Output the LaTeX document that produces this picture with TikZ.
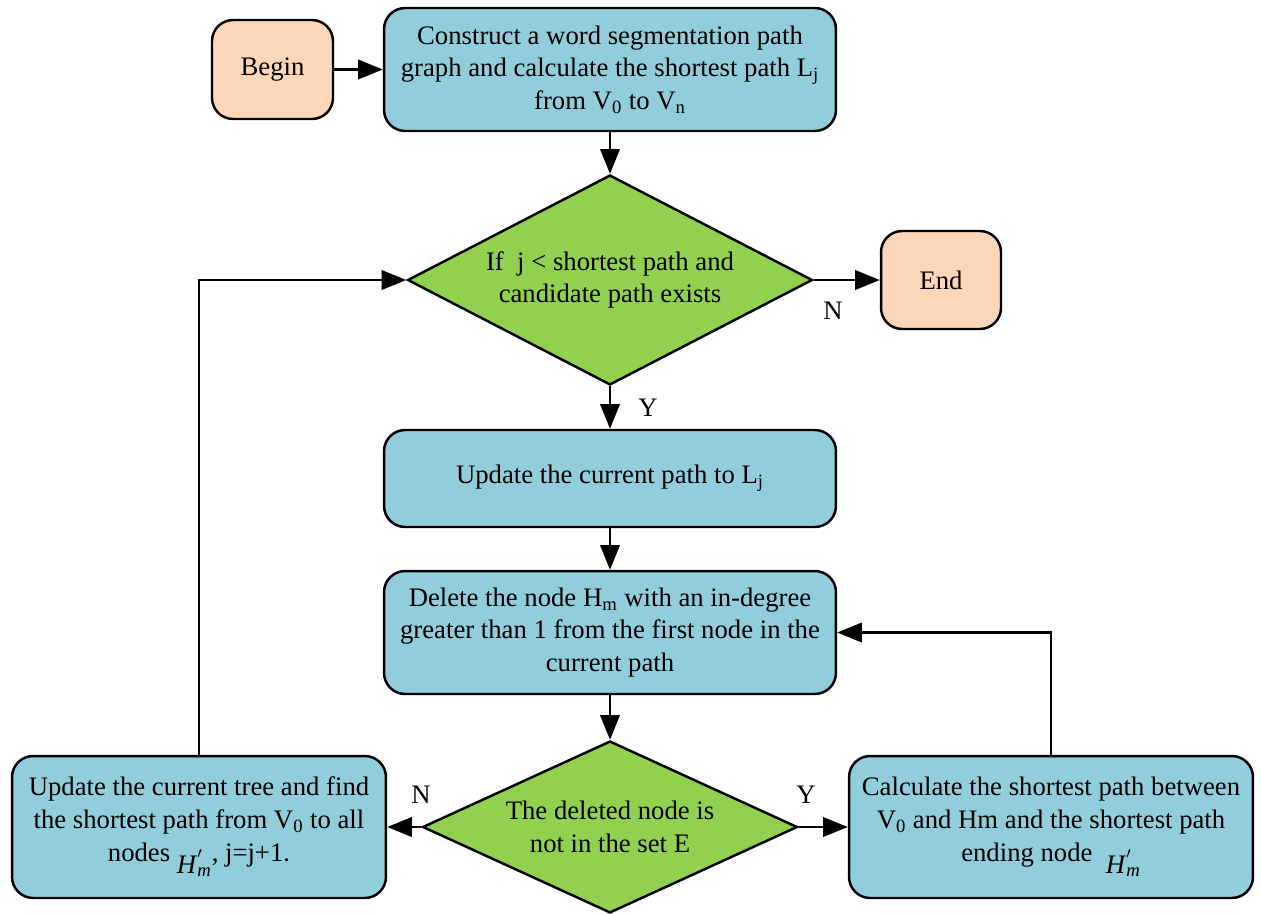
\documentclass[tikz,border=0pt]{standalone}
\usepackage{fontspec}
\setmainfont{Liberation Serif}
\usetikzlibrary{shapes.geometric,arrows.meta}
\definecolor{boxblue}{HTML}{92CDDC}
\definecolor{dgreen}{HTML}{92D050}
\definecolor{peach}{HTML}{FBD6B8}
\newcommand{\Hmp}{\raisebox{-0.45em}{\textit{H}\rlap{\raisebox{0.55em}{\small$\prime$}}\textsubscript{\textit{m}}}}
\begin{document}
\begin{tikzpicture}[x=0.02cm,y=-0.02cm,
  basefont/.style={font=\fontsize{15.2}{18.6}\selectfont},
  procbox/.style={draw, line width=1.4pt, rounded corners=12pt, fill=boxblue, align=center, inner sep=0pt, basefont},
  termbox/.style={procbox, fill=peach},
  decision/.style={diamond, draw, line width=1.4pt, fill=dgreen, align=center, inner sep=0pt, basefont},
  arr/.style={-{Triangle[length=14pt,width=11pt]}, line width=1.4pt},
  lbl/.style={basefont}]
\useasboundingbox (0,0) rectangle (1261,913);
\node[termbox, minimum width=2.42cm, minimum height=1.98cm] (begin) at (272.5,69.5) {Begin};
\node[procbox, minimum width=9.04cm, minimum height=2.46cm] (construct) at (610,69.5) {Construct a word segmentation path\\graph and calculate the shortest path L\textsubscript{j}\\from V\textsubscript{0} to V\textsubscript{n}};
\node[decision, shape aspect=1.93, minimum width=8.1cm, minimum height=4.2cm] (d1) at (610,280) {If~ j < shortest path and\\candidate path exists};
\node[termbox, minimum width=2.4cm, minimum height=1.96cm] (end) at (941,280) {End};
\node[procbox, minimum width=9.04cm, minimum height=1.94cm] (update) at (610,478.5) {Update the current path to L\textsubscript{j}};
\node[procbox, minimum width=9.04cm, minimum height=2.46cm] (delete) at (610,632.5) {Delete the node H\textsubscript{m} with an in-degree\\greater than 1 from the first node in the\\current path};
\node[decision, shape aspect=2.18, minimum width=7.5cm, minimum height=3.44cm] (d2) at (610,827) {The deleted node is\\not in the set E};
\node[procbox, minimum width=7.48cm, minimum height=2.84cm] (left) at (199,827) {Update the current tree and find\\the shortest path from V\textsubscript{0} to all\\nodes \Hmp, j=j+1.};
\node[procbox, minimum width=8.08cm, minimum height=2.84cm] (right) at (1051,827) {Calculate the shortest path between\\V\textsubscript{0} and Hm and the shortest path\\ending node~ \Hmp};
\draw[arr] (begin) -- (construct);
\draw[arr] (construct) -- (d1);
\draw[arr] (d1) -- (end);
\draw[arr] (d1) -- (update);
\draw[arr] (update) -- (delete);
\draw[arr] (delete) -- (d2);
\draw[arr] (d2) -- (left);
\draw[arr] (d2) -- (right);
\draw[arr] (right.north) |- (delete.east);
\draw[arr] (left.north) |- (d1.west);
\node[lbl] (n1) at (833,311) {N};
\node[lbl] (y1) at (648,408) {Y};
\node[lbl] (n2) at (421,795) {N};
\node[lbl] (y2) at (806,795) {Y};
\end{tikzpicture}
\end{document}
